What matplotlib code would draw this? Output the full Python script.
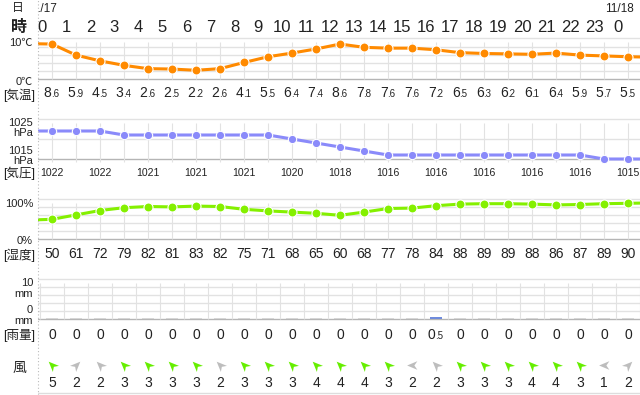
import numpy as np
import matplotlib
matplotlib.use("Agg")
import matplotlib.pyplot as plt
from matplotlib.transforms import blended_transform_factory, Affine2D
from matplotlib.path import Path
from matplotlib.markers import MarkerStyle

plt.rcParams['font.family'] = ['Liberation Sans', 'Noto Sans CJK JP', 'DejaVu Sans']

# ---------------- data ----------------
hours = [0, 1, 2, 3, 4, 5, 6, 7, 8, 9, 10, 11, 12, 13, 14, 15, 16, 17, 18, 19, 20, 21, 22, 23, 0]
dates = {0: "11/17", 24: "11/18"}
temp = [8.6, 5.9, 4.5, 3.4, 2.6, 2.5, 2.2, 2.6, 4.1, 5.5, 6.4, 7.4, 8.6,
        7.8, 7.6, 7.6, 7.2, 6.5, 6.3, 6.2, 6.1, 6.4, 5.9, 5.7, 5.5]
temp_edges = [8.7, 5.4]
pressure = [1022, 1022, 1022, 1021, 1021, 1021, 1021, 1021, 1021, 1021, 1020, 1019, 1018,
            1017, 1016, 1016, 1016, 1016, 1016, 1016, 1016, 1016, 1016, 1015, 1015]
pressure_edges = [1022, 1015]
pressure_labels = [1022, 1022, 1021, 1021, 1021, 1020, 1018, 1016, 1016, 1016, 1016, 1016, 1015]
humidity = [50, 61, 72, 79, 82, 81, 83, 82, 75, 71, 68, 65, 60,
            68, 77, 78, 84, 88, 89, 89, 88, 86, 87, 89, 90]
humidity_edges = [48, 91]
rain = [0, 0, 0, 0, 0, 0, 0, 0, 0, 0, 0, 0, 0, 0, 0, 0, 0.5, 0, 0, 0, 0, 0, 0, 0, 0]
wind_speed = [5, 2, 2, 3, 3, 3, 3, 2, 3, 3, 3, 4, 4, 4, 3, 2, 2, 3, 3, 3, 4, 4, 3, 1, 2]
wind_dir = ['NW', 'NE', 'NW', 'NW', 'NW', 'NW', 'NW', 'NW', 'NW', 'NW', 'NW', 'NW', 'NW',
            'NW', 'NW', 'W', 'NW', 'NW', 'NW', 'NW', 'NW', 'NW', 'NW', 'W', 'NE']

# ---------------- layout ----------------
W, H = 640, 395
L = 38.0
X0, STEP = 52.0, 24.0
XMIN = (L - X0) / STEP
XMAX = (W - X0) / STEP
xs = np.arange(len(temp))

fig = plt.figure(figsize=(W / 100, H / 100), dpi=100)
fig.patch.set_facecolor('white')

TXT = '#222222'
GRID = '#E2E2E2'
BASE = '#B5B5B5'
LSZ = 8.0


def fy(px):
    return 1 - px / H


def fx(px):
    return px / W


def panel(ytop, ybot, vtop, vbot, pad=8):
    scale = (ybot - ytop) / (vtop - vbot)
    ax = fig.add_axes([fx(L), fy(ybot + pad), fx(W - L), (ybot - ytop + 2 * pad) / H])
    ax.set_xlim(XMIN, XMAX)
    ax.set_ylim(vbot - pad / scale, vtop + pad / scale)
    ax.axis('off')
    return ax, scale


def hgrid(ax, vals, bottom):
    for v in vals:
        ax.axhline(v, color=BASE if v == bottom else GRID, lw=1.0, zorder=1)


def left_text(x, y, s, size, ha='right', weight='normal'):
    fig.text(fx(x), fy(y), s, ha=ha, va='baseline', fontsize=size, color=TXT, weight=weight)


def split_value(ax, x, ybase, v, big=10, small=7, dx=-0.5):
    tr = blended_transform_factory(ax.transData, fig.transFigure)
    s = f"{v:.1f}"
    ip, fp = s.split('.')
    off = dx / STEP
    ax.text(x + off, fy(ybase), ip, transform=tr, ha='right', va='baseline',
            fontsize=big, color=TXT, clip_on=False)
    ax.text(x + off, fy(ybase), '.' + fp, transform=tr, ha='left', va='baseline',
            fontsize=small, color=TXT, clip_on=False)


def row_labels(ax, xpos, vals, ybase, size):
    tr = blended_transform_factory(ax.transData, fig.transFigure)
    for x, v in zip(xpos, vals):
        ax.text(x, fy(ybase), str(v), transform=tr, ha='center', va='baseline',
                fontsize=size, color=TXT, clip_on=False)


def series(ax, vals, edges, color, ms):
    xx = np.concatenate([[-1], xs, [len(xs)]])
    yy = np.concatenate([[edges[0]], vals, [edges[1]]])
    ax.plot(xx, yy, color=color, lw=2.2, zorder=3, solid_capstyle='round')
    ax.plot(xs, vals, ls='none', marker='o', ms=ms, color=color, mec='white', mew=0.8, zorder=4)


# left dotted border
fig.add_artist(plt.Line2D([fx(L - 0.5)] * 2, [0, 1], color='#BBBBBB', lw=0.8, ls=(0, (1, 2))))

# ---------------- header ----------------
hdr = fig.add_axes([fx(L), fy(36), fx(W - L), 36 / H])
hdr.set_xlim(XMIN, XMAX)
hdr.set_ylim(36, 0)
hdr.axis('off')
for i, h in enumerate(hours):
    hdr.text(i - 0.4, 32.3, str(h), ha='center', va='baseline', fontsize=12, color=TXT, clip_on=True)
for i, d in dates.items():
    hdr.text(i - 0.4 + 15 / STEP, 12.5, d, ha='right', va='baseline', fontsize=8.5, color=TXT, clip_on=True)
left_text(18, 11.5, '日', 8.5, ha='center')
left_text(18.5, 32, '時', 11.5, ha='center', weight='bold')

# ---------------- temperature ----------------
ax, sc = panel(38.3, 79.3, 10, 0)
hgrid(ax, [0, 2, 4, 6, 8, 10], 0)
ax.vlines(xs, 0, 10 - 4 / sc, color=GRID, lw=0.8, zorder=1)
series(ax, temp, temp_edges, '#FF8A00', 6.5)
for x, v in zip(xs, temp):
    split_value(ax, x, 97, v)
left_text(33, 46, '10℃', LSZ)
left_text(33, 85, '0℃', LSZ)
left_text(35, 98.5, '[気温]', 9)

# ---------------- pressure ----------------
ax, sc = panel(119, 159, 1025, 1015)
hgrid(ax, [1015, 1020, 1025], 1015)
ax.vlines(xs, 1015 - 2.5 / sc, 1025 - 4 / sc, color=GRID, lw=0.8, zorder=1)
series(ax, pressure, pressure_edges, '#8A8AFA', 6.0)
row_labels(ax, xs[::2], pressure_labels, 176, 7.6)
left_text(33, 126.5, '1025', LSZ)
left_text(33, 136.5, 'hPa', LSZ)
left_text(33, 153.5, '1015', LSZ)
left_text(33, 164.5, 'hPa', LSZ)
left_text(35, 177, '[気圧]', 9)

# ---------------- humidity ----------------
ax, sc = panel(199.3, 239.3, 100, 0)
hgrid(ax, [0, 20, 40, 60, 80, 100], 0)
ax.vlines(xs, 0, 100 - 4 / sc, color=GRID, lw=0.8, zorder=1)
series(ax, humidity, humidity_edges, '#84F000', 6.5)
row_labels(ax, xs, humidity, 258.3, 10)
left_text(33, 207, '100%', LSZ)
left_text(33, 244, '0%', LSZ)
left_text(35, 258.5, '[湿度]', 9)

# ---------------- rain ----------------
ax, sc = panel(279.3, 319, 10, 0)
hgrid(ax, [0, 2, 4, 6, 8, 10], 0)
ax.vlines(np.arange(-1, len(xs)) + 0.5, 0, 10 - 4 / sc, color=GRID, lw=0.8, zorder=1)
rain_arr = np.array(rain, dtype=float)
stub = 1.3 / sc
ax.bar(xs, np.where(rain_arr > 0, rain_arr, stub), width=0.52,
       color=np.where(rain_arr > 0, '#6F8BDC', '#D6D6D6'), zorder=3)
tr = blended_transform_factory(ax.transData, fig.transFigure)
for x, v in zip(xs, rain):
    if v == 0:
        ax.text(x, fy(339), '0', transform=tr, ha='center', va='baseline', fontsize=10,
                color=TXT, clip_on=False)
    else:
        split_value(ax, x, 339, v)
left_text(33, 286.5, '10', LSZ)
left_text(33, 297, 'mm', LSZ)
left_text(33, 313, '0', LSZ)
left_text(33, 323.5, 'mm', LSZ)
left_text(35, 339.5, '[雨量]', 9)

# ---------------- wind ----------------
axw = fig.add_axes([fx(L), 0, fx(W - L), 1])
axw.set_xlim(XMIN, XMAX)
axw.set_ylim(H, 0)
axw.axis('off')
dart = Path([(0, 1), (0.8, -0.9), (0, -0.35), (-0.8, -0.9), (0, 1)],
            [Path.MOVETO, Path.LINETO, Path.LINETO, Path.LINETO, Path.CLOSEPOLY])
angles = {'N': 0, 'NW': 45, 'W': 90, 'SW': 135, 'S': 180, 'SE': 225, 'E': 270, 'NE': 315}
for x, d, s in zip(xs, wind_dir, wind_speed):
    m = MarkerStyle(dart, transform=Affine2D().rotate_deg(angles[d]))
    axw.scatter([x], [365], marker=m, s=60, color='#66EE00' if s >= 3 else '#BDBDBD',
                linewidths=0, zorder=3)
for x, s in zip(xs, wind_speed):
    axw.text(x, 387.3, str(s), ha='center', va='baseline', fontsize=10, color=TXT)
axw.axhline(393, color='#DDDDDD', lw=1.0)
left_text(19, 372, '風', 10, ha='center')

fig.savefig('out.png', dpi=100, facecolor='white')
